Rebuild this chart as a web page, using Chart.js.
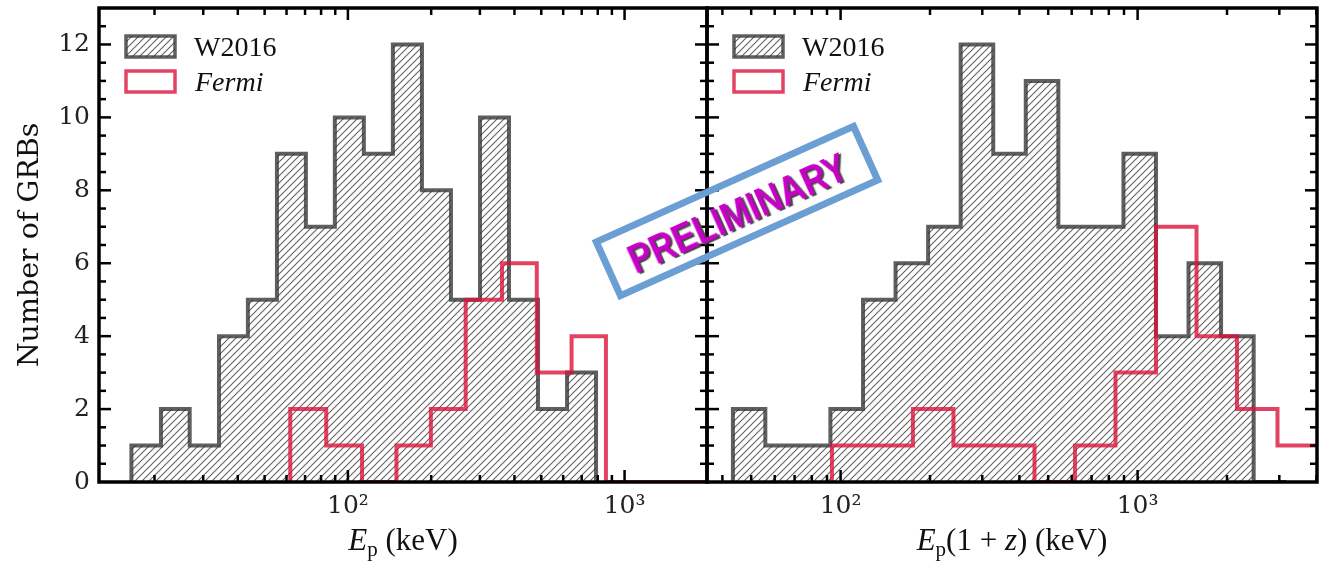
<!DOCTYPE html>
<html>
<head>
<meta charset="utf-8">
<script src="https://cdn.jsdelivr.net/npm/chart.js@4.4.1/dist/chart.umd.min.js"></script>
<style>
  html, body { margin: 0; padding: 0; background: #fff; }
  #wrap { position: relative; width: 1320px; height: 561px; overflow: hidden; }
  #wrap canvas { position: absolute; left: 0; top: 0; }
  #stamp {
    position: absolute; left: 737px; top: 211px;
    width: 289px; height: 66px; box-sizing: border-box;
    border: 7px solid #6b9ed3;
    transform: translate(-50%, -50%) rotate(-24.2deg);
    display: flex; align-items: center; justify-content: center;
  }
  #stamp span {
    display: inline-block;
    font: bold 40px "Liberation Sans", Arial, sans-serif;
    color: #c800c8;
    text-shadow: 2px 2px 1px #444;
    transform: translateY(2px) scaleX(0.86);
    white-space: nowrap;
  }
</style>
</head>
<body>
<div id="wrap">
  <canvas id="left" width="1320" height="561"></canvas>
  <canvas id="right" width="1320" height="561"></canvas>
  <div id="stamp"><span>PRELIMINARY</span></div>
</div>
<script>
// tick labels
const yTicks = [0, 2, 4, 6, 8, 10, 12];
const xTicks = [100, 1000];
const xTickLabels = ["10\u00B2", "10\u00B3"];

// observed peak energy E_p (keV): bin edges and counts
const epEdgesW2016 = [16.5, 21.1, 26.8, 34.2, 43.5, 55.4, 70.5, 89.7, 114.2, 145.4, 185.2, 235.8, 300.2, 382.2, 486.7, 619.6, 788.8];
const epCountsW2016 = [1, 2, 1, 4, 5, 9, 7, 10, 9, 12, 8, 5, 10, 5, 2, 3];
const epEdgesFermi = [61.9, 83.5, 112.5, 149.8, 199.5, 266.5, 360.6, 481.7, 643.4, 856.4, 1141, 1520, 2023];
const epCountsFermi = [2, 1, 0, 1, 2, 5, 6, 3, 4, 0, 0, 0];

// rest-frame peak energy E_p(1+z) (keV)
const restEdgesW2016 = [43.4, 55.8, 71.8, 92.4, 119.0, 153.1, 197.1, 253.7, 326.6, 420.2, 541.0, 696.1, 896.1, 1153, 1484, 1910, 2459, 3165];
const restCountsW2016 = [2, 1, 1, 2, 5, 6, 7, 12, 9, 11, 7, 7, 9, 4, 6, 4, 0];
const restEdgesFermi = [93.5, 128.0, 175.2, 239.9, 328.4, 449.6, 615.3, 842.4, 1153, 1579, 2161, 2958, 4050];
const restCountsFermi = [1, 1, 2, 1, 1, 0, 1, 3, 7, 4, 2, 1];

const GRAY = "rgba(50,50,50,0.78)";
const RED = "rgba(220,20,60,0.8)";
const SERIF = "'DejaVu Serif', serif";
const TEXT = "'Liberation Serif', 'DejaVu Serif', serif";

// histogram outline as points for a stepped line (each point closes the bin before it)
function stepPoints(edges, counts) {
  const pts = [{ x: edges[0], y: 0 }];
  counts.forEach((c, i) => pts.push({ x: edges[i], y: c }));
  const last = edges.length - 1;
  pts.push({ x: edges[last], y: counts[counts.length - 1] });
  pts.push({ x: edges[last], y: 0 });
  return pts;
}

function hatchTile() {
  const s = 7;
  const c = document.createElement("canvas");
  c.width = s; c.height = s;
  const g = c.getContext("2d");
  g.strokeStyle = "rgba(60,60,60,0.8)";
  g.lineWidth = 1.1;
  g.beginPath();
  g.moveTo(-1, s + 1); g.lineTo(s + 1, -1);
  g.moveTo(-1, 1); g.lineTo(1, -1);
  g.moveTo(s - 1, s + 1); g.lineTo(s + 1, s - 1);
  g.stroke();
  return c;
}

// frame, inward ticks, legend and axis titles
const panelDecor = {
  id: "panelDecor",
  afterDraw(chart, args, opts) {
    const ctx = chart.ctx;
    const { left, right, top, bottom } = chart.chartArea;
    const xs = chart.scales.x, ys = chart.scales.y;
    ctx.save();
    ctx.strokeStyle = "#000";
    ctx.lineCap = "butt";

    const seg = (x1, y1, x2, y2) => { ctx.beginPath(); ctx.moveTo(x1, y1); ctx.lineTo(x2, y2); ctx.stroke(); };

    ctx.lineWidth = 2.5;
    for (let d = 1; d <= 3; d++) {
      for (let m = 1; m <= 9; m++) {
        const v = m * Math.pow(10, d);
        if (v <= xs.min || v >= xs.max) continue;
        const px = xs.getPixelForValue(v);
        const len = m === 1 ? 12 : 7;
        seg(px, bottom, px, bottom - len);
        seg(px, top, px, top + len);
      }
    }
    for (let v = 0.5; v < ys.max; v += 0.5) {
      const py = ys.getPixelForValue(v);
      const len = v % 2 === 0 ? 12 : 7;
      seg(left, py, left + len, py);
      seg(right, py, right - len, py);
    }

    ctx.lineWidth = 3.5;
    ctx.strokeRect(left, top, right - left, bottom - top);

    // legend
    const lx = left + 27, ly = top + 28, w = 49, h = 21;
    ctx.fillStyle = "#fff";
    ctx.fillRect(lx, ly, w, h);
    ctx.fillStyle = opts.hatch;
    ctx.fillRect(lx, ly, w, h);
    ctx.lineWidth = 3.5;
    ctx.strokeStyle = GRAY;
    ctx.strokeRect(lx, ly, w, h);
    ctx.strokeStyle = RED;
    ctx.strokeRect(lx, ly + 35, w, h);

    ctx.fillStyle = "#111";
    ctx.textBaseline = "alphabetic";
    ctx.textAlign = "left";
    ctx.font = "28px " + TEXT;
    ctx.fillText("W2016", lx + 68, ly + 20);
    ctx.font = "italic 28px " + TEXT;
    ctx.fillText("Fermi", lx + 69, ly + 55);

    // x-axis title built from styled pieces
    const pieces = opts.xTitle;
    const fontFor = (p) => (p.it ? "italic " : "") + (p.sub ? "21px " : "31px ") + TEXT;
    let total = 0;
    pieces.forEach((p) => { ctx.font = fontFor(p); total += ctx.measureText(p.t).width; });
    let x = (left + right) / 2 - total / 2;
    const base = 550;
    pieces.forEach((p) => {
      ctx.font = fontFor(p);
      ctx.fillText(p.t, x, p.sub ? base + 6 : base);
      x += ctx.measureText(p.t).width;
    });

    if (opts.yTitle) {
      ctx.translate(31, (top + bottom) / 2);
      ctx.rotate(-Math.PI / 2);
      ctx.textAlign = "center";
      ctx.textBaseline = "middle";
      ctx.font = "28.5px " + SERIF;
      ctx.fillText(opts.yTitle, 0, 0);
    }
    ctx.restore();
  }
};

function makePanel(id, cfg) {
  const ctx = document.getElementById(id).getContext("2d");
  const hatch = ctx.createPattern(hatchTile(), "repeat");
  return new Chart(ctx, {
    type: "line",
    data: {
      datasets: [
        {
          label: "W2016",
          data: stepPoints(cfg.edgesW, cfg.countsW),
          stepped: "before",
          borderColor: GRAY,
          borderWidth: 4,
          borderJoinStyle: "miter",
          backgroundColor: hatch,
          fill: "origin",
          pointRadius: 0,
          order: 2,
        },
        {
          label: "Fermi",
          data: stepPoints(cfg.edgesF, cfg.countsF),
          stepped: "before",
          borderColor: RED,
          borderWidth: 4,
          borderJoinStyle: "miter",
          fill: false,
          pointRadius: 0,
          order: 1,
        },
      ],
    },
    options: {
      responsive: false,
      animation: false,
      devicePixelRatio: 1,
      layout: { padding: cfg.padding },
      plugins: {
        legend: { display: false },
        tooltip: { enabled: false },
        panelDecor: { hatch, xTitle: cfg.xTitle, yTitle: cfg.yTitle },
      },
      scales: {
        x: {
          type: "logarithmic",
          min: cfg.xMin,
          max: cfg.xMax,
          grid: { display: false, drawTicks: false },
          border: { display: false },
          afterBuildTicks: (s) => { s.ticks = xTicks.map((v) => ({ value: v })); },
          afterFit: (s) => { s.height = 79; s.paddingLeft = 0; s.paddingRight = 0; },
          ticks: {
            autoSkip: false,
            maxRotation: 0,
            padding: 9,
            color: "#222",
            font: { family: SERIF, size: 25 },
            callback: (v) => xTickLabels[xTicks.indexOf(v)] || "",
          },
        },
        y: {
          display: cfg.showY,
          min: 0,
          max: 13,
          grid: { display: false, drawTicks: false },
          border: { display: false },
          afterBuildTicks: (s) => { s.ticks = yTicks.map((v) => ({ value: v })); },
          afterFit: (s) => { s.width = cfg.showY ? 99 : 0; s.paddingTop = 0; s.paddingBottom = 0; },
          ticks: {
            padding: 9,
            color: "#222",
            font: { family: SERIF, size: 25 },
          },
        },
      },
    },
    plugins: [panelDecor],
  });
}

makePanel("left", {
  edgesW: epEdgesW2016, countsW: epCountsW2016,
  edgesF: epEdgesFermi, countsF: epCountsFermi,
  xMin: 12.6, xMax: 1986,
  showY: true,
  padding: { left: 0, top: 8, right: 613, bottom: 0 },
  yTitle: "Number of GRBs",
  xTitle: [{ t: "E", it: true }, { t: "p", sub: true }, { t: " (keV)" }],
});

makePanel("right", {
  edgesW: restEdgesW2016, countsW: restCountsW2016,
  edgesF: restEdgesFermi, countsF: restCountsFermi,
  xMin: 35.5, xMax: 4018,
  showY: false,
  padding: { left: 707, top: 8, right: 3, bottom: 0 },
  xTitle: [{ t: "E", it: true }, { t: "p", sub: true }, { t: "(1 + " }, { t: "z", it: true }, { t: ") (keV)" }],
});
</script>
</body>
</html>
